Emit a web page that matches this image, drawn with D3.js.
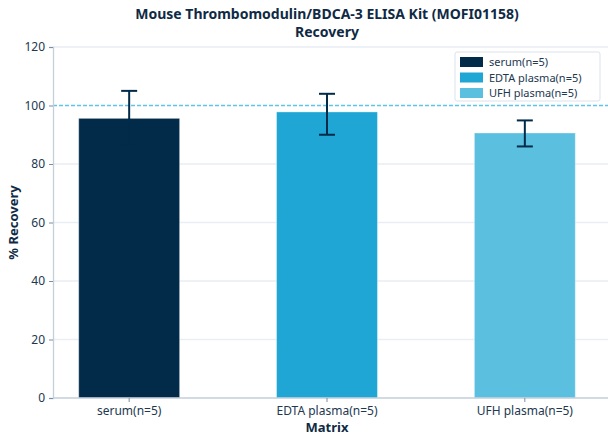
<!DOCTYPE html>
<html>
<head>
<meta charset="utf-8">
<script src="https://cdn.jsdelivr.net/npm/d3@7"></script>
<style>
  body { margin: 0; background: #fff; }
  svg { display: block; font-family: "Noto Sans", "Open Sans", sans-serif; }
</style>
</head>
<body>
<div id="chart"></div>
<script>
// chart values
var categories = ["serum(n=5)", "EDTA plasma(n=5)", "UFH plasma(n=5)"];
var recovery = [95.6, 97.8, 90.6];
var errLow = [86.2, 90.0, 86.0];
var errHigh = [105.0, 104.0, 94.9];
var yTicks = [0, 20, 40, 60, 80, 100, 120];
var colors = ["#022b4a", "#1fa6d4", "#5bbfe0"];

var width = 608, height = 444;
var margin = {top: 47, right: 7, bottom: 46, left: 53};

var svg = d3.select("#chart")
    .append("svg")
    .attr("width", width)
    .attr("height", height);

var x = d3.scaleBand()
    .domain(categories)
    .range([margin.left, width - margin.right])
    .paddingInner(0.49)
    .paddingOuter(0.13);

var y = d3.scaleLinear()
    .domain([0, 120])
    .range([height - margin.bottom, margin.top]);

/* gridlines (100 is covered by the reference line) */
svg.append("g")
    .selectAll("line")
    .data(yTicks.filter(d => d > 0 && d !== 100))
    .enter()
    .append("line")
    .attr("x1", margin.left)
    .attr("x2", width)
    .attr("y1", d => y(d))
    .attr("y2", d => y(d))
    .attr("stroke", "#e9eef4")
    .attr("stroke-width", 1.5);

/* bars */
svg.append("g")
    .selectAll("rect")
    .data(categories)
    .enter()
    .append("rect")
    .attr("x", d => x(d))
    .attr("y", (d, i) => y(recovery[i]))
    .attr("width", x.bandwidth())
    .attr("height", (d, i) => y(0) - y(recovery[i]))
    .attr("fill", (d, i) => colors[i])
    .attr("stroke", "#ffffff")
    .attr("stroke-opacity", 0.35)
    .attr("stroke-width", 1);

/* reference line at 100 */
svg.append("line")
    .attr("x1", margin.left)
    .attr("x2", width)
    .attr("y1", y(100))
    .attr("y2", y(100))
    .attr("stroke", "#5ec4ea")
    .attr("stroke-width", 1.5)
    .attr("stroke-dasharray", "4,2");

/* error bars */
var eb = svg.append("g")
    .attr("stroke", "#022b4a")
    .attr("stroke-width", 2)
    .selectAll("g")
    .data(categories)
    .enter()
    .append("g");

eb.append("line")
    .attr("x1", d => x(d) + x.bandwidth() / 2)
    .attr("x2", d => x(d) + x.bandwidth() / 2)
    .attr("y1", (d, i) => y(errLow[i]))
    .attr("y2", (d, i) => y(errHigh[i]));
eb.append("line")
    .attr("x1", d => x(d) + x.bandwidth() / 2 - 8)
    .attr("x2", d => x(d) + x.bandwidth() / 2 + 8)
    .attr("y1", (d, i) => y(errHigh[i]))
    .attr("y2", (d, i) => y(errHigh[i]));
eb.append("line")
    .attr("x1", d => x(d) + x.bandwidth() / 2 - 8)
    .attr("x2", d => x(d) + x.bandwidth() / 2 + 8)
    .attr("y1", (d, i) => y(errLow[i]))
    .attr("y2", (d, i) => y(errLow[i]));

/* axes */
var yAxis = svg.append("g")
    .attr("transform", "translate(" + margin.left + ",0)")
    .call(d3.axisLeft(y).tickValues(yTicks).tickSize(4).tickPadding(4));

var xAxis = svg.append("g")
    .attr("transform", "translate(0," + y(0) + ")")
    .call(d3.axisBottom(x).tickSize(4).tickPadding(4));

[yAxis, xAxis].forEach(function(a) {
    a.select(".domain").attr("stroke", "#c3cfdb").attr("stroke-width", 1.3);
    a.selectAll(".tick line").attr("stroke", "#7d8ea3");
    a.selectAll(".tick text")
        .attr("fill", "#22384f")
        .style("font-size", "12px")
        .style("font-family", "Noto Sans");
});
xAxis.select(".domain").attr("d", "M" + margin.left + ",0H" + width);

/* axis titles */
svg.append("text")
    .attr("x", (margin.left + width - margin.right) / 2)
    .attr("y", 432)
    .attr("text-anchor", "middle")
    .attr("fill", "#0f2a44")
    .style("font-size", "13px")
    .style("font-weight", "bold")
    .text("Matrix");

svg.append("text")
    .attr("transform", "translate(18," + y(60) + ") rotate(-90)")
    .attr("text-anchor", "middle")
    .attr("fill", "#0f2a44")
    .style("font-size", "13px")
    .style("font-weight", "bold")
    .text("% Recovery");

/* title */
var title = svg.append("g")
    .attr("fill", "#0f2a44")
    .style("font-size", "14px")
    .style("font-weight", "bold");
title.append("text")
    .attr("x", 327).attr("y", 19)
    .attr("text-anchor", "middle")
    .text("Mouse Thrombomodulin/BDCA-3 ELISA Kit (MOFI01158)");
title.append("text")
    .attr("x", 327).attr("y", 37)
    .attr("text-anchor", "middle")
    .text("Recovery");

/* legend */
var legend = svg.append("g")
    .attr("transform", "translate(455,52)");
legend.append("rect")
    .attr("width", 145)
    .attr("height", 49)
    .attr("rx", 2)
    .attr("fill", "#ffffff")
    .attr("stroke", "#dbe3ec");
var li = legend.selectAll("g.item")
    .data(categories)
    .enter()
    .append("g")
    .attr("class", "item")
    .attr("transform", (d, i) => "translate(5," + (5 + i * 15.5) + ")");
li.append("rect")
    .attr("width", 23)
    .attr("height", 10)
    .attr("fill", (d, i) => colors[i]);
li.append("text")
    .attr("x", 29)
    .attr("y", 9)
    .attr("fill", "#22384f")
    .style("font-size", "11px")
    .text(d => d);
</script>
</body>
</html>
